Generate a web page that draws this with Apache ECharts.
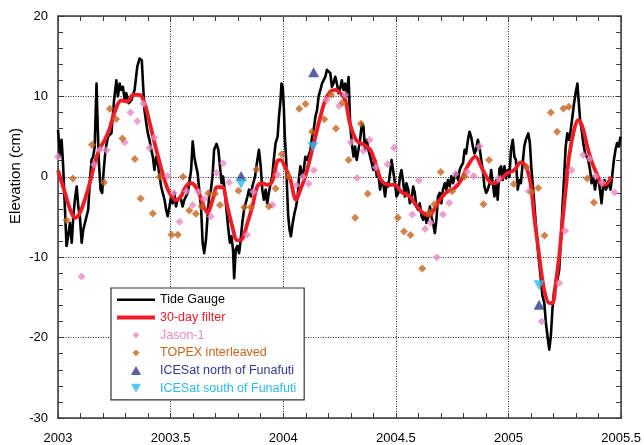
<!DOCTYPE html>
<html><head><meta charset="utf-8">
<script src="https://cdn.jsdelivr.net/npm/echarts@6/dist/echarts.min.js"></script>
<style>html,body{margin:0;padding:0;background:#fff}#c{width:644px;height:445px}</style>
</head><body><div id="c"></div>
<script>
// Tide gauge (daily-ish sea level, cm) [decimal year, elevation]
const tideGauge = [
[2003.000,5.8],[2003.006,3.8],[2003.009,2.5],[2003.016,4.6],[2003.023,1.3],[2003.031,-4.1],[2003.038,-8.6],[2003.045,-7.4],
[2003.053,-5.75],[2003.061,-8.2],[2003.068,-4.9],[2003.075,-2.85],[2003.083,-1.2],[2003.090,-3.7],[2003.097,-4.9],[2003.105,-8.2],
[2003.112,-6.6],[2003.119,-6.8],[2003.127,-4.9],[2003.134,-4.1],[2003.141,-0.8],[2003.149,2.1],[2003.156,2.5],[2003.163,3.75],
[2003.171,11.6],[2003.175,7.5],[2003.181,2.1],[2003.189,-1.6],[2003.196,-2.0],[2003.203,0.85],[2003.211,3.35],[2003.222,5.0],
[2003.237,5.4],[2003.249,9.55],[2003.259,12.0],[2003.266,10.0],[2003.274,11.6],[2003.281,10.8],[2003.288,11.2],[2003.296,9.55],
[2003.303,10.4],[2003.314,9.15],[2003.326,9.55],[2003.340,10.8],[2003.352,13.7],[2003.362,14.7],[2003.372,14.5],[2003.379,10.8],
[2003.384,8.3],[2003.392,6.65],[2003.399,5.4],[2003.406,4.6],[2003.414,3.35],[2003.421,2.5],[2003.428,0.85],[2003.436,2.5],
[2003.443,1.7],[2003.451,0.05],[2003.458,-1.2],[2003.465,-2.0],[2003.473,-2.85],[2003.480,-4.1],[2003.487,-4.9],[2003.495,-3.7],
[2003.502,-2.45],[2003.509,-3.3],[2003.517,-2.0],[2003.524,-3.7],[2003.531,-2.85],[2003.543,-2.45],[2003.553,-3.7],[2003.561,-2.85],
[2003.576,-2.0],[2003.591,0.85],[2003.598,4.4],[2003.605,2.5],[2003.613,1.3],[2003.620,0.45],[2003.627,-1.6],[2003.635,-3.7],
[2003.642,-8.2],[2003.649,-9.5],[2003.657,-7.8],[2003.664,-4.9],[2003.671,-2.45],[2003.679,-1.6],[2003.686,0.05],[2003.693,3.35],
[2003.704,4.1],[2003.712,3.35],[2003.719,1.3],[2003.726,-0.8],[2003.733,0.05],[2003.741,-2.0],[2003.748,-4.1],[2003.755,-6.2],
[2003.763,-8.2],[2003.770,-7.4],[2003.777,-9.05],[2003.782,-12.6],[2003.789,-9.05],[2003.796,-8.6],[2003.804,-9.5],[2003.811,-7.8],
[2003.818,-5.75],[2003.826,-4.1],[2003.833,-3.3],[2003.841,-2.45],[2003.848,-1.6],[2003.856,-2.45],[2003.863,-1.2],[2003.875,0.05],
[2003.885,2.1],[2003.892,3.35],[2003.900,1.3],[2003.907,-1.6],[2003.914,-2.85],[2003.922,-1.6],[2003.929,-3.3],[2003.936,-2.0],
[2003.944,-0.8],[2003.951,0.05],[2003.958,2.1],[2003.966,4.2],[2003.975,5.0],[2003.981,7.5],[2003.988,9.55],[2003.992,11.6],
[2003.998,11.2],[2004.003,8.3],[2004.007,5.0],[2004.013,2.1],[2004.017,-1.6],[2004.022,-4.9],[2004.028,-6.6],[2004.034,-7.4],
[2004.042,-5.75],[2004.050,-4.5],[2004.057,-3.7],[2004.064,-2.45],[2004.069,-0.4],[2004.076,1.3],[2004.083,0.05],[2004.091,0.85],
[2004.098,2.5],[2004.106,2.1],[2004.113,2.1],[2004.121,3.35],[2004.128,5.0],[2004.135,5.8],[2004.143,7.5],[2004.150,8.3],
[2004.157,10.0],[2004.165,10.8],[2004.172,11.6],[2004.179,12.0],[2004.187,12.45],[2004.194,13.3],[2004.201,13.5],[2004.209,12.9],
[2004.216,11.2],[2004.223,11.6],[2004.231,12.45],[2004.238,11.6],[2004.246,10.4],[2004.253,11.0],[2004.260,12.0],[2004.268,10.8],
[2004.275,11.6],[2004.282,10.0],[2004.290,12.4],[2004.297,6.65],[2004.304,4.2],[2004.312,2.5],[2004.319,3.75],[2004.326,2.1],
[2004.334,3.35],[2004.341,4.6],[2004.349,6.65],[2004.356,6.25],[2004.363,3.35],[2004.371,4.6],[2004.378,3.35],[2004.386,2.5],
[2004.393,1.7],[2004.400,0.85],[2004.408,2.1],[2004.415,0.05],[2004.422,0.45],[2004.430,-1.6],[2004.437,-0.4],[2004.444,-0.8],
[2004.452,-2.45],[2004.459,-0.8],[2004.466,-1.2],[2004.474,0.45],[2004.481,2.1],[2004.489,2.1],[2004.496,-0.8],[2004.503,-2.45],
[2004.511,-2.0],[2004.518,0.05],[2004.525,0.85],[2004.533,-0.8],[2004.540,-2.45],[2004.547,-0.8],[2004.555,-1.6],[2004.562,-3.3],
[2004.569,-2.85],[2004.577,-1.2],[2004.584,-2.0],[2004.591,-3.7],[2004.599,-4.1],[2004.606,-3.3],[2004.614,-4.9],[2004.621,-5.35],
[2004.629,-4.5],[2004.636,-5.75],[2004.643,-5.1],[2004.651,-3.7],[2004.658,-4.9],[2004.665,-5.75],[2004.673,-7.0],[2004.680,-5.35],
[2004.687,-2.45],[2004.695,-2.0],[2004.702,-3.3],[2004.709,-1.6],[2004.717,-0.8],[2004.724,-1.6],[2004.731,-0.4],[2004.739,-1.2],
[2004.746,0.05],[2004.754,-0.8],[2004.761,0.05],[2004.768,0.45],[2004.776,-0.4],[2004.783,0.85],[2004.790,1.3],[2004.798,1.7],
[2004.805,3.35],[2004.812,2.9],[2004.820,4.6],[2004.827,5.6],[2004.834,5.0],[2004.842,3.75],[2004.849,2.9],[2004.856,3.35],
[2004.864,4.6],[2004.871,3.75],[2004.879,2.1],[2004.886,0.85],[2004.893,-1.2],[2004.901,-2.0],[2004.908,-1.6],[2004.916,-0.8],
[2004.923,0.85],[2004.930,-0.8],[2004.938,-2.45],[2004.945,-0.4],[2004.952,-2.85],[2004.960,1.0],[2004.967,1.3],[2004.974,-0.4],
[2004.982,1.3],[2004.989,-0.2],[2004.996,0.85],[2005.004,0.0],[2005.011,3.35],[2005.019,4.6],[2005.026,2.5],[2005.033,2.1],
[2005.041,-1.6],[2005.048,-0.4],[2005.055,-0.8],[2005.063,1.7],[2005.070,3.75],[2005.077,4.6],[2005.088,5.4],[2005.095,4.2],
[2005.102,0.85],[2005.111,-2.0],[2005.121,-5.75],[2005.129,-8.6],[2005.136,-10.7],[2005.144,-12.8],[2005.151,-14.85],[2005.159,-15.7],
[2005.166,-18.15],[2005.173,-19.8],[2005.181,-21.5],[2005.188,-19.8],[2005.195,-16.5],[2005.203,-14.0],[2005.210,-13.6],[2005.217,-12.8],
[2005.225,-11.6],[2005.232,-8.2],[2005.239,-4.1],[2005.247,0.05],[2005.254,3.75],[2005.261,5.4],[2005.269,4.6],[2005.276,5.8],
[2005.284,7.5],[2005.291,9.15],[2005.298,10.4],[2005.306,11.6],[2005.310,10.0],[2005.318,7.05],[2005.325,5.8],[2005.332,4.2],
[2005.340,2.9],[2005.347,2.5],[2005.354,2.1],[2005.362,0.85],[2005.369,-0.8],[2005.376,0.05],[2005.384,-1.6],[2005.391,-0.4],
[2005.398,0.05],[2005.406,-1.6],[2005.413,-3.3],[2005.420,-1.2],[2005.426,-0.4],[2005.432,-1.6],[2005.438,-1.2],[2005.446,-0.8],
[2005.453,-1.6],[2005.460,0.05],[2005.468,2.1],[2005.475,3.35],[2005.482,4.2],[2005.490,3.75],[2005.497,5.0]
];
// 30-day filtered tide gauge
const filter30 = [
[2003.000,0.8],[2003.031,-2.0],[2003.053,-4.0],[2003.075,-5.1],[2003.097,-4.5],[2003.119,-2.85],[2003.141,-0.8],[2003.163,1.7],
[2003.186,3.55],[2003.208,4.6],[2003.230,6.05],[2003.252,8.1],[2003.281,9.5],[2003.308,9.35],[2003.333,10.2],[2003.362,10.2],
[2003.384,9.15],[2003.406,6.85],[2003.428,4.3],[2003.451,1.8],[2003.473,-0.4],[2003.495,-2.0],[2003.524,-2.9],[2003.546,-2.45],
[2003.568,-1.2],[2003.591,-0.8],[2003.613,-1.3],[2003.635,-2.7],[2003.649,-3.8],[2003.664,-4.5],[2003.685,-3.0],[2003.707,-1.3],
[2003.729,-1.3],[2003.752,-3.7],[2003.774,-6.2],[2003.796,-7.9],[2003.816,-7.8],[2003.841,-5.75],[2003.863,-3.7],[2003.885,-1.2],
[2003.907,-0.8],[2003.929,-1.0],[2003.951,-0.6],[2003.973,1.9],[2003.988,2.1],[2004.010,1.1],[2004.032,-0.4],[2004.057,-2.85],
[2004.076,-1.6],[2004.098,0.05],[2004.121,2.5],[2004.143,5.0],[2004.165,7.5],[2004.187,9.55],[2004.209,10.6],[2004.231,10.8],
[2004.253,10.45],[2004.275,9.6],[2004.297,6.5],[2004.326,4.5],[2004.356,4.0],[2004.386,3.4],[2004.415,1.2],[2004.437,-0.5],
[2004.474,-1.0],[2004.496,-1.0],[2004.525,-1.9],[2004.562,-2.45],[2004.591,-3.6],[2004.621,-4.5],[2004.648,-4.8],[2004.673,-3.9],
[2004.702,-2.6],[2004.731,-1.8],[2004.761,-1.4],[2004.790,-0.4],[2004.820,1.4],[2004.852,2.5],[2004.886,0.85],[2004.916,-0.6],
[2004.939,-0.8],[2004.960,-0.4],[2004.996,0.45],[2005.026,0.85],[2005.055,1.8],[2005.077,1.3],[2005.099,-1.0],[2005.114,-4.9],
[2005.129,-8.2],[2005.144,-11.5],[2005.161,-14.4],[2005.181,-15.7],[2005.195,-15.7],[2005.210,-13.2],[2005.225,-9.9],[2005.239,-5.75],
[2005.254,-1.6],[2005.269,2.5],[2005.291,5.8],[2005.309,7.05],[2005.328,6.25],[2005.350,3.75],[2005.372,1.7],[2005.394,0.25],
[2005.416,-1.0],[2005.435,-0.9],[2005.456,0.0]
];
const jason1 = [
[2003.000,2.5],[2003.105,-12.4],[2003.160,1.5],[2003.186,3.35],[2003.215,3.3],[2003.296,4.3],[2003.322,8.0],[2003.352,6.9],
[2003.379,9.1],[2003.406,3.6],[2003.428,4.9],[2003.487,0.1],[2003.514,-2.0],[2003.540,-5.6],[2003.571,-1.8],[2003.598,-3.5],
[2003.623,-1.85],[2003.649,-2.75],[2003.678,-4.95],[2003.704,0.5],[2003.733,1.7],[2003.760,-0.7],[2003.839,-7.2],[2003.867,-1.85],
[2003.952,-3.5],[2003.975,0.25],[2004.058,-1.05],[2004.087,0.0],[2004.113,-0.85],[2004.136,0.8],[2004.193,9.55],[2004.248,8.8],
[2004.275,10.2],[2004.300,4.3],[2004.328,-0.15],[2004.356,3.25],[2004.384,4.6],[2004.411,1.2],[2004.463,1.55],[2004.492,3.6],
[2004.573,-4.7],[2004.602,-0.45],[2004.630,-6.5],[2004.654,-5.7],[2004.682,-10.0],[2004.709,-4.7],[2004.737,-3.25],[2004.765,0.35],
[2004.816,0.6],[2004.845,0.1],[2004.871,3.8],[2004.955,-0.25],[2005.090,-1.8],[2005.147,-18.0],[2005.225,-13.2],[2005.251,-6.7],
[2005.280,0.8],[2005.331,2.7],[2005.360,2.25],[2005.387,0.1],[2005.416,-0.7],[2005.471,-1.95]
];
const topex = [
[2003.038,-5.4],[2003.066,-0.2],[2003.151,4.0],[2003.204,-0.7],[2003.230,8.45],[2003.258,7.2],[2003.286,4.75],[2003.341,2.2],
[2003.367,-2.7],[2003.421,-4.55],[2003.451,0.0],[2003.504,-7.2],[2003.532,-7.2],[2003.555,0.0],[2003.583,-4.2],[2003.612,-4.6],
[2003.638,-3.7],[2003.667,-2.05],[2003.697,-2.1],[2003.719,-3.5],[2003.801,-1.75],[2003.827,-3.8],[2003.856,-3.8],[2003.881,0.9],
[2003.936,-3.7],[2003.966,-1.45],[2003.993,2.8],[2004.022,0.0],[2004.071,8.45],[2004.099,9.05],[2004.128,5.6],[2004.182,7.15],
[2004.212,10.2],[2004.234,6.0],[2004.263,9.2],[2004.290,2.1],[2004.319,-5.1],[2004.345,6.6],[2004.375,-2.1],[2004.509,-5.1],
[2004.536,-6.8],[2004.565,-7.25],[2004.617,-11.4],[2004.648,-4.4],[2004.671,-3.4],[2004.699,0.6],[2004.750,-1.8],[2004.805,0.0],
[2004.889,-3.4],[2004.914,2.1],[2005.024,-0.9],[2005.082,1.2],[2005.103,-1.9],[2005.132,-1.4],[2005.160,-7.3],[2005.188,8.0],
[2005.216,5.6],[2005.244,8.5],[2005.268,8.7],[2005.350,-0.2],[2005.379,-3.2]
];
const icesatNorth = [[2003.813,0.1],[2004.135,13.0],[2005.136,-15.9]];
const icesatSouth = [[2003.813,-0.85],[2004.132,3.75],[2005.136,-13.5]];
const xTicks = ['2003','2003.5','2004','2004.5','2005','2005.5'];
const yTicks = ['-30','-20','-10','0','10','20'];

const FONT = '"Liberation Sans", Arial, Helvetica, sans-serif';
const chart = echarts.init(document.getElementById('c'), null, {renderer:'canvas'});
const axisCol = '#3a3a3a';
const baseX = {
  type:'value', min:2003, max:2005.5, interval:0.5,
  axisLine:{show:true, onZero:false, lineStyle:{color:axisCol, width:1.5}},
  axisTick:{show:true, inside:true, length:5, lineStyle:{color:axisCol, width:1}},
  minorTick:{show:true, splitNumber:5, length:5, lineStyle:{color:axisCol, width:1}},
};
const baseY = {
  type:'value', min:-30, max:20, interval:10,
  axisLine:{show:true, onZero:false, lineStyle:{color:axisCol, width:1.5}},
  axisTick:{show:true, inside:true, length:5, lineStyle:{color:axisCol, width:1}},
  minorTick:{show:true, splitNumber:5, length:5, lineStyle:{color:axisCol, width:1}},
};
// legend icons (bounding corners keep the icon box at full item size)
const box = 'M0,0L0.01,0.01M38,10L37.99,9.99';
const iconLineThin = 'path://' + box + 'M0,3.8L38,3.8L38,6.2L0,6.2Z';
const iconLineThick = 'path://' + box + 'M0,3L38,3L38,7L0,7Z';
const iconDiamond = 'path://' + box + 'M19,1.6L22.4,5L19,8.4L15.6,5Z';
const iconUp = 'path://' + box + 'M14,9.5L19,0.5L24,9.5Z';
const iconDown = 'path://' + box + 'M14,0.5L24,0.5L19,9.5Z';

const option = {
  animation:false,
  backgroundColor:'#fff',
  grid:{left:58, right:20, top:16, bottom:26, containLabel:false},
  xAxis:[
    Object.assign({}, baseX, {position:'bottom',
      axisLabel:{show:true, margin:14, fontSize:13, color:'#000', fontFamily:FONT,
        formatter:v=>{const s=String(Math.round(v*10)/10); return xTicks.indexOf(s)>=0?s:'';}},
      splitLine:{show:true, lineStyle:{type:[1,1.5], color:'#222', width:1}}}),
    Object.assign({}, baseX, {position:'top', axisLabel:{show:false}, splitLine:{show:false}})
  ],
  yAxis:[
    Object.assign({}, baseY, {position:'left',
      axisLabel:{show:true, margin:10, fontSize:13, color:'#000', fontFamily:FONT,
        formatter:v=>{const s=String(Math.round(v)); return yTicks.indexOf(s)>=0?s:'';}},
      splitLine:{show:true, lineStyle:{type:[1,1.5], color:'#222', width:1}}}),
    Object.assign({}, baseY, {position:'right', axisLabel:{show:false}, splitLine:{show:false}})
  ],
  legend:{
    show:true, orient:'vertical', left:111, top:288, selectedMode:false,
    backgroundColor:'#fff', borderColor:'#333', borderWidth:1.2, borderRadius:0,
    padding:[4.7,8,4.7,6], itemWidth:38, itemHeight:10, itemGap:3.7, symbolKeepAspect:true,
    textStyle:{fontSize:12.5, fontFamily:FONT, color:'#000', lineHeight:14},
    data:[
      {name:'Tide Gauge', icon:iconLineThin, textStyle:{color:'#000'}},
      {name:'30-day filter', icon:iconLineThick, textStyle:{color:'#ee1c24'}},
      {name:'Jason-1', icon:iconDiamond, textStyle:{color:'#e98ac6'}},
      {name:'TOPEX interleaved', icon:iconDiamond, textStyle:{color:'#c8641e'}},
      {name:'ICESat north of Funafuti', icon:iconUp, textStyle:{color:'#2d3a92'}},
      {name:'ICESat south of Funafuti', icon:iconDown, textStyle:{color:'#2fb8ec'}}
    ]
  },
  graphic:[{
    type:'text', x:16, y:176, rotation:Math.PI/2,
    style:{text:'Elevation (cm)', font:'15px '+FONT, fill:'#000', align:'center', verticalAlign:'middle'}
  }],
  series:[
    {name:'Tide Gauge', type:'line', data:tideGauge, symbol:'none', color:'#000',
     lineStyle:{color:'#000', width:2.6, join:'round'}, z:2},
    {name:'30-day filter', type:'line', data:filter30, symbol:'none', smooth:0.35, color:'#ee1c24',
     lineStyle:{color:'#ee1c24', width:3.8}, z:3},
    {name:'Jason-1', type:'scatter', data:jason1, symbol:'diamond', symbolSize:8, color:'#e98ac6',
     itemStyle:{color:'#e98ac6'}, z:4},
    {name:'TOPEX interleaved', type:'scatter', data:topex, symbol:'diamond', symbolSize:8, color:'#c8641e',
     itemStyle:{color:'#c8641e'}, z:4},
    {name:'ICESat north of Funafuti', type:'scatter', data:icesatNorth, symbol:'triangle', symbolSize:[11,10], color:'#2d3a92',
     itemStyle:{color:'#2d3a92'}, z:5},
    {name:'ICESat south of Funafuti', type:'scatter', data:icesatSouth, symbol:'triangle', symbolRotate:180, symbolSize:[11,10], color:'#2fb8ec',
     itemStyle:{color:'#2fb8ec'}, z:5}
  ]
};
chart.setOption(option);
</script>
</body></html>
